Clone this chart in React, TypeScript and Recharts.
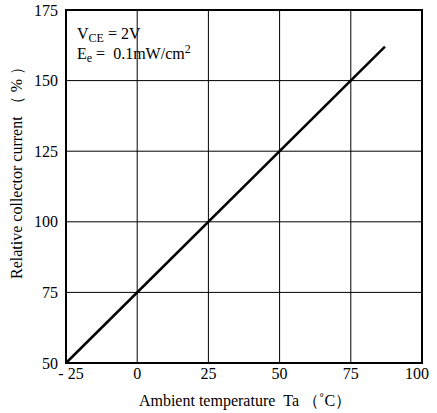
import { LineChart, Line, XAxis, YAxis, CartesianGrid, ReferenceArea, Customized } from "recharts";

const xTicks = [-25, 0, 25, 50, 75, 100];
const yTicks = [50, 75, 100, 125, 150, 175];
const temperature = [-25, 87];
const relCurrent = [50, 162];

const data = temperature.map((t, i) => ({ t, v: relCurrent[i] }));

const font = "'Liberation Serif', 'Times New Roman', serif";
const sp = "\u00a0";

const XTick = (props: any) => {
  const { x, y, payload } = props;
  const v = payload.value;
  const label = v < 0 ? `-${sp}${Math.abs(v)}` : `${v}`;
  // end labels sit a little inside the frame, as in the print
  const dx = v === -25 ? 5 : v === 100 ? -5 : 0;
  return (
    <text x={x} y={y} dx={dx} dy={8} textAnchor="middle" fontFamily={font} fontSize={16} fill="#000">
      {label}
    </text>
  );
};

const Notes = () => (
  <g fontFamily={font} fontSize={16} fill="#000">
    <text x={77} y={39}>
      V<tspan fontSize={12} dy={3}>CE</tspan>
      <tspan dy={-3}>{`${sp}=${sp}2V`}</tspan>
    </text>
    <text x={77} y={59}>
      E<tspan fontSize={12} dy={3}>e</tspan>
      <tspan dy={-3}>{`${sp}=${sp}${sp}0.1mW/cm`}</tspan>
      <tspan fontSize={12} dy={-6}>2</tspan>
    </text>
    <text
      x={16}
      y={169}
      transform="rotate(-90 16 169)"
      textAnchor="middle"
      dominantBaseline="central"
    >
      {`Relative collector current${sp}（${sp}%${sp}）`}
    </text>
    <text x={245} y={400} textAnchor="middle" dominantBaseline="central">
      {`Ambient temperature${sp}${sp}Ta${sp}（˚C）`}
    </text>
  </g>
);

export default function App() {
  return (
    <div style={{ width: 437, height: 413, background: "#fff" }}>
      <style>{`body{margin:0}`}</style>
      <LineChart
        width={437}
        height={413}
        data={data}
        margin={{ top: 10, right: 15, left: 0, bottom: 0 }}
      >
        <CartesianGrid stroke="#000" strokeWidth={1} />
        <XAxis
          dataKey="t"
          type="number"
          domain={[-25, 100]}
          ticks={xTicks}
          height={50}
          axisLine={false}
          tickLine={false}
          tick={<XTick />}
        />
        <YAxis
          type="number"
          domain={[50, 175]}
          ticks={yTicks}
          width={66}
          axisLine={false}
          tickLine={false}
          tickMargin={2}
          tick={{ fontFamily: font, fontSize: 16, fill: "#000" }}
        />
        <ReferenceArea
          x1={-25}
          x2={100}
          y1={50}
          y2={175}
          fill="none"
          stroke="#000"
          strokeWidth={2}
          ifOverflow="visible"
        />
        <Line
          dataKey="v"
          type="linear"
          stroke="#000"
          strokeWidth={2.5}
          dot={false}
          isAnimationActive={false}
        />
        <Customized component={<Notes />} />
      </LineChart>
    </div>
  );
}
